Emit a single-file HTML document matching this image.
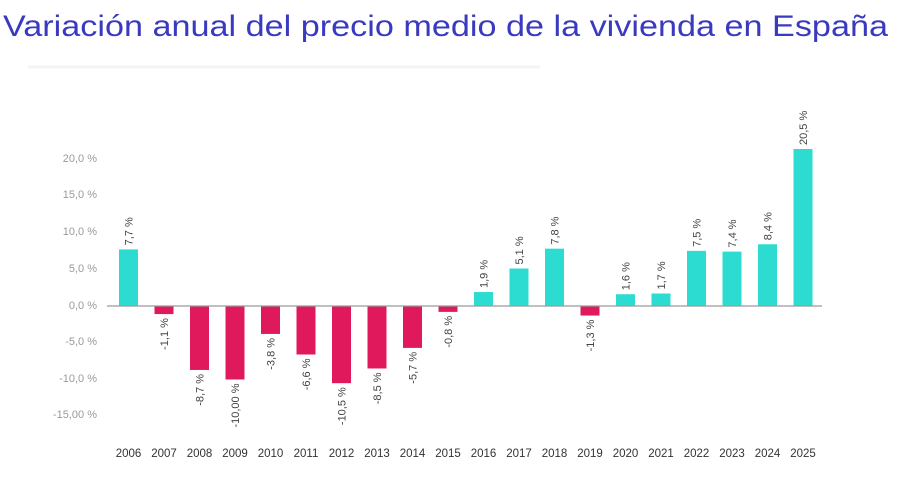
<!DOCTYPE html>
<html><head><meta charset="utf-8"><style>
body{margin:0;background:#fff;width:897px;height:480px;overflow:hidden;font-family:"Liberation Sans",sans-serif}
</style></head><body>
<svg width="897" height="480" xmlns="http://www.w3.org/2000/svg">
<text x="3" y="36" font-family="Liberation Sans, sans-serif" font-size="29.5" fill="#3a3ac0" textLength="885" lengthAdjust="spacingAndGlyphs">Variación anual del precio medio de la vivienda  en España</text>
<line x1="28" y1="67" x2="540" y2="67" stroke="#f3f3f3" stroke-width="3"/>
<g font-size="11" fill="#9a9a9a" text-anchor="end">
<text x="97" y="162">20,0 %</text>
<text x="97" y="198">15,0 %</text>
<text x="97" y="235">10,0 %</text>
<text x="97" y="272">5,0 %</text>
<text x="97" y="309">0,0 %</text>
<text x="97" y="345">-5,0 %</text>
<text x="97" y="382">-10,0 %</text>
<text x="97" y="418">-15,00 %</text>
</g>
<g id="bars"></g>
<line x1="107" y1="306" x2="822" y2="306" stroke="#9a9a9a" stroke-width="1.3"/>
<g id="years" font-size="11.5" fill="#333" text-anchor="middle"></g>
<g id="labels" font-size="11" fill="#444"></g>
<script>
var vals=[7.7,-1.1,-8.7,-10.0,-3.8,-6.6,-10.5,-8.5,-5.7,-0.8,1.9,5.1,7.8,-1.3,1.6,1.7,7.5,7.4,8.4,20.5];
var labs=["7,7 %","-1,1 %","-8,7 %","-10,00 %","-3,8 %","-6,6 %","-10,5 %","-8,5 %","-5,7 %","-0,8 %","1,9 %","5,1 %","7,8 %","-1,3 %","1,6 %","1,7 %","7,5 %","7,4 %","8,4 %","20,5 %"];
var ns="http://www.w3.org/2000/svg",z=306,k=7.35;
var b=document.getElementById("bars"),y=document.getElementById("years"),l=document.getElementById("labels");
vals.forEach(function(v,i){
 var x=119+i*35.5,h=Math.abs(v)*k;
 if(i==19)h=157;
 var r=document.createElementNS(ns,"rect");
 r.setAttribute("x",x);r.setAttribute("width",19);
 r.setAttribute("y",v>=0?z-h:z);r.setAttribute("height",h);
 r.setAttribute("fill",v>=0?"#2cdcd0":"#e0185c");b.appendChild(r);
 var t=document.createElementNS(ns,"text");t.setAttribute("x",x+9.5);t.setAttribute("y",457);t.textContent=2006+i;y.appendChild(t);
 var s=document.createElementNS(ns,"text");var cx=x+13.5;
 if(v>=0){var yy=z-h-4;s.setAttribute("transform","translate("+cx+","+yy+") rotate(-90)");s.setAttribute("text-anchor","start");}
 else{var yy=z+h+4;s.setAttribute("transform","translate("+cx+","+yy+") rotate(-90)");s.setAttribute("text-anchor","end");}
 s.textContent=labs[i];l.appendChild(s);
});
</script>
</svg>
</body></html>
